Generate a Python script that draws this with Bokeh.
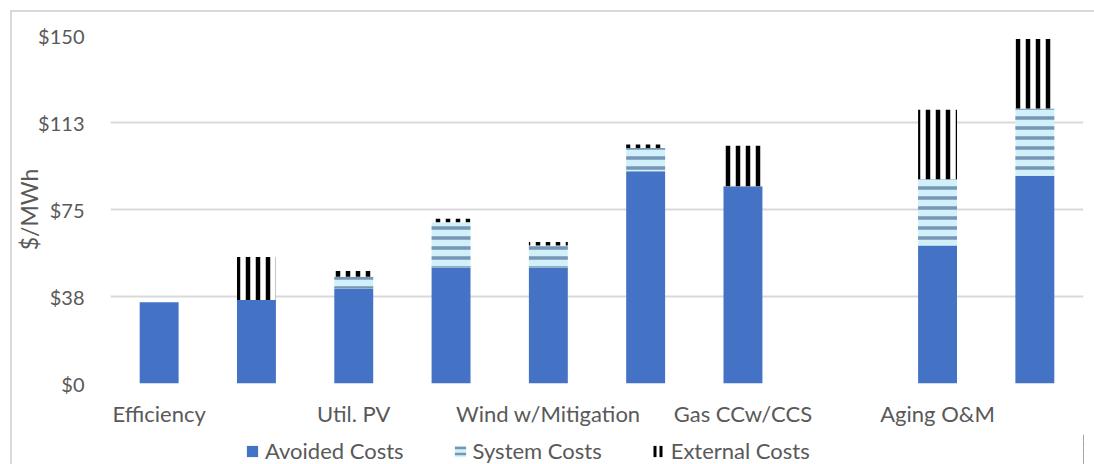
from bokeh.plotting import figure
from bokeh.layouts import column
from bokeh.models import ColumnDataSource, Range1d, FixedTicker, Legend, LegendItem
from bokeh.transform import stack
from bokeh.embed import file_html
from bokeh.resources import INLINE

# ---- data ----
labels = ["Efficiency", "", "Util. PV", "", "Wind w/Mitigation", "", "Gas CCw/CCS", "", "Aging O&M", ""]
avoided = [35.0, 36.0, 41.0, 50.0, 50.0, 91.5, 85.0, 0.0, 59.5, 89.5]
system = [0.0, 0.0, 5.0, 19.5, 9.5, 10.0, 0.0, 0.0, 28.5, 29.0]
external = [0.0, 18.5, 2.5, 1.5, 1.5, 1.5, 17.5, 0.0, 30.0, 30.0]
series_names = ["Avoided Costs", "System Costs", "External Costs"]
y_ticks = [0, 37.5, 75, 112.5, 150]
y_tick_labels = ["$0", "$38", "$75", "$113", "$150"]

FONT = "Lato"
TXT = "#595959"
STY = [dict(fill_color="#4472c4", line_color=None),
       dict(fill_color="#d2f0fa", line_color=None, hatch_pattern="horizontal_line",
            hatch_color="#7596b4", hatch_weight=3.5, hatch_scale=10),
       dict(fill_color="white", line_color=None, hatch_pattern="vertical_line",
            hatch_color="black", hatch_weight=4.5, hatch_scale=10)]
LEG_STY = [STY[0],
           dict(STY[1], hatch_scale=6, hatch_weight=2.5),
           dict(STY[2], hatch_scale=6, hatch_weight=3)]

x = list(range(len(labels)))
src = ColumnDataSource(dict(x=x, avoided=avoided, system=system, external=external))

p = figure(width=1082, height=422, output_backend="svg", toolbar_location=None,
           x_range=Range1d(-0.5, len(labels) - 0.5), y_range=Range1d(0, 150),
           min_border_left=98, min_border_right=11, min_border_top=23, min_border_bottom=51)

p.vbar(x="x", bottom=0, top="avoided", width=0.4, source=src, **STY[0])
p.vbar(x="x", bottom=stack("avoided"), top=stack("avoided", "system"), width=0.4, source=src, **STY[1])
p.vbar(x="x", bottom=stack("avoided", "system"), top=stack("avoided", "system", "external"),
       width=0.4, source=src, **STY[2])

p.outline_line_color = None
p.xgrid.grid_line_color = None
p.ygrid.grid_line_color = "#d9d9d9"
p.ygrid.grid_line_width = 2

p.yaxis.ticker = FixedTicker(ticks=y_ticks)
p.yaxis.major_label_overrides = {t: l for t, l in zip(y_ticks, y_tick_labels)}
p.xaxis.ticker = FixedTicker(ticks=x)
p.xaxis.major_label_overrides = {i: l for i, l in zip(x, labels)}

for ax in (p.xaxis[0], p.yaxis[0]):
    ax.axis_line_color = None
    ax.major_tick_line_color = None
    ax.minor_tick_line_color = None
    ax.major_label_text_font = FONT
    ax.major_label_text_color = TXT

p.yaxis.major_label_text_font_size = "20px"
p.xaxis.major_label_text_font_size = "22px"
p.yaxis.major_label_standoff = 20
p.xaxis.major_label_standoff = 10
p.yaxis.axis_label = "$/MWh"
p.yaxis.axis_label_text_font = FONT
p.yaxis.axis_label_text_font_size = "23px"
p.yaxis.axis_label_text_font_style = "normal"
p.yaxis.axis_label_text_color = TXT
p.yaxis.axis_label_standoff = -8

# legend strip below the chart (its dummy glyphs lie outside its own view)
lf = figure(width=1082, height=30, output_backend="svg", toolbar_location=None,
            x_range=Range1d(0, 1), y_range=Range1d(0, 1), x_axis_type=None, y_axis_type=None,
            min_border_left=0, min_border_right=0, min_border_top=0, min_border_bottom=0)
lf.outline_line_color = None
lf.grid.visible = False
dummy = ColumnDataSource(dict(x=[10], top=[1]))
items = []
for name, sty in zip(series_names, LEG_STY):
    r = lf.vbar(x="x", top="top", width=0.1, source=dummy, **sty)
    items.append(LegendItem(label=name, renderers=[r]))
legend = Legend(items=items, orientation="horizontal", location=(135, 0), padding=0, margin=0,
                spacing=49, glyph_width=14, glyph_height=14, label_standoff=6,
                label_text_font=FONT, label_text_font_size="22px", label_text_color=TXT,
                border_line_color=None, background_fill_alpha=0)
lf.add_layout(legend, "center")

layout = column(p, lf, spacing=0)
layout.styles = {"border-top": "2px solid #d9d9d9", "border-left": "2px solid #d9d9d9",
                 "margin-left": "10px", "margin-top": "10px"}

open("out.html", "w").write(file_html(layout, INLINE))
